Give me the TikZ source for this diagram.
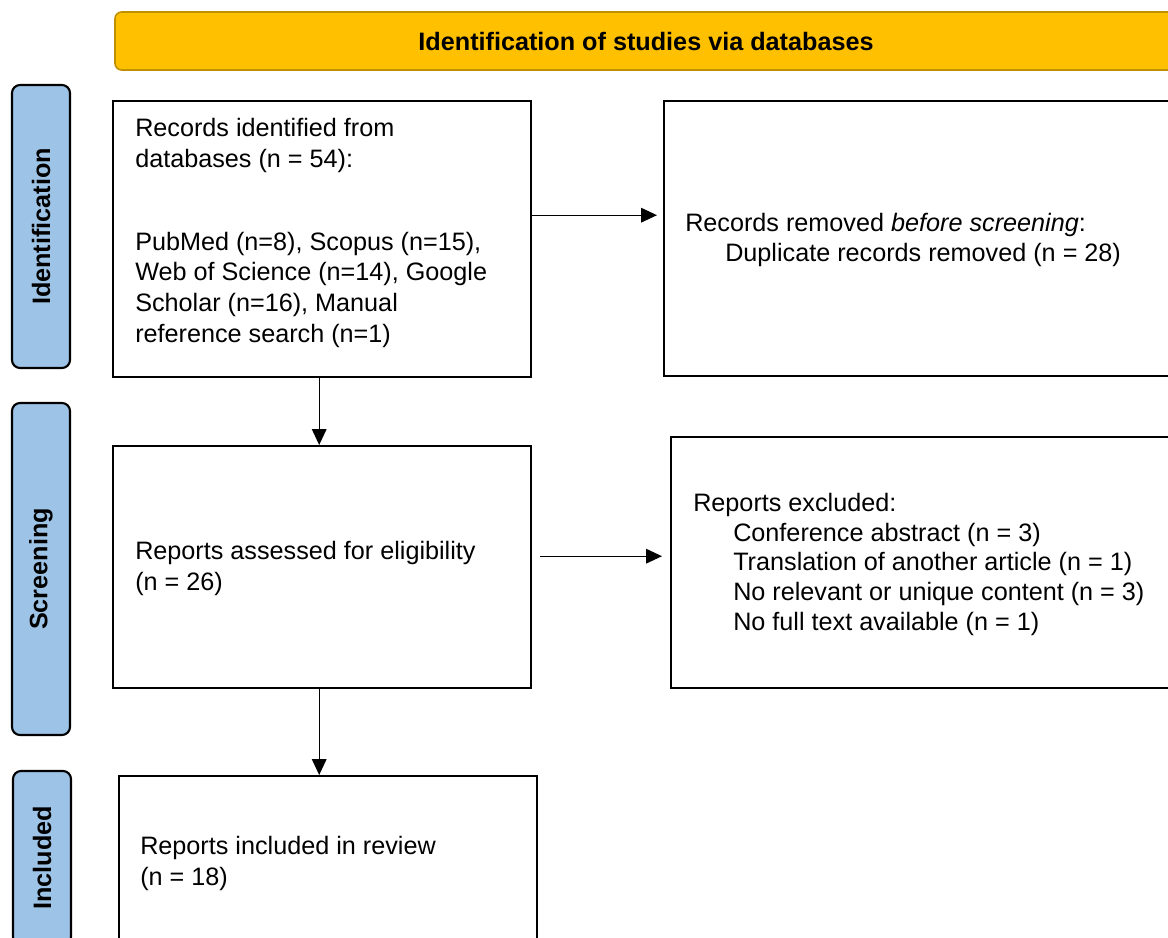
\documentclass[tikz,border=0pt]{standalone}
\usepackage{fontspec}
\setmainfont{Liberation Sans}
\usepackage{xcolor}
\usetikzlibrary{shapes,arrows.meta,positioning,calc}
\definecolor{headgold}{RGB}{255,192,0}
\definecolor{headline}{RGB}{191,144,0}
\definecolor{sideblue}{RGB}{157,195,230}

\begin{document}
\begin{tikzpicture}[x=0.75pt,y=-0.75pt]
	\tikzset{font=\fontsize{18.9}{23}\selectfont}
	\tikzset{box/.style 2 args = {shape=rectangle,draw,line width=1.8pt,inner sep=0,anchor=north west,minimum width=#1*0.75pt,minimum height=#2*0.75pt}}
	\tikzset{phase/.style = {shape=rectangle,rounded corners=6pt,draw,fill=sideblue,line width=1.6pt,rotate=90,font=\fontsize{18.9}{23}\selectfont\bfseries,minimum height=58*0.75pt,minimum width=#1*0.75pt}}
	\tikzset{head/.style = {shape=rectangle,rounded corners=5pt,draw=headline,fill=headgold,line width=1.2pt,font=\fontsize{18.9}{23}\selectfont\bfseries,minimum height=58*0.75pt,minimum width=1062*0.75pt}}
	% base = baseline of the last line
	\tikzset{txt/.style = {anchor=base west,inner sep=0,align=left}}
	\tikzset{arr/.style = {-{Triangle[length=12pt,width=11pt]},line width=1pt}}

	\useasboundingbox (0,0) rectangle (1168,938);
	\clip (0,0) rectangle (1168,938);

	% banner and phase labels
	\node[head] (head) at (646,41) {Identification of studies via databases};
	\node[phase=283] (lid) at (41,226.5) {Identification};
	\node[phase=332] (lsc) at (41,569) {Screening};
	\node[phase=174] (lin) at (42,858) {Included};

	% boxes
	\node[box={418}{276}] (rec) at (112,100) {};
	\node[box={527}{275}] (rem) at (663,100) {};
	\node[box={418}{242}] (ass) at (112,445) {};
	\node[box={520}{251}] (exc) at (670,436) {};
	\node[box={418}{190}] (rev) at (118,775) {};

	\node[txt] (rectxt) at ($(rec.north west)+(23,242)$) {Records identified from\\databases (n = 54):\\[39pt]PubMed (n=8), Scopus (n=15),\\Web of Science (n=14), Google\\Scholar (n=16), Manual\\reference search (n=1)};
	\node[txt] (remtxt) at ($(rem.north west)+(22,162)$) {Records removed \textit{before screening}:\\\hspace*{30pt}Duplicate records removed (n = 28)};
	\node[txt] (asstxt) at ($(ass.north west)+(23,145)$) {Reports assessed for eligibility\\(n = 26)};
	\node[txt,font=\fontsize{18.9}{22.2}\selectfont] (exctxt) at ($(exc.north west)+(23,194)$) {Reports excluded:\\\hspace*{30pt}Conference abstract (n = 3)\\\hspace*{30pt}Translation of another article (n = 1)\\\hspace*{30pt}No relevant or unique content (n = 3)\\\hspace*{30pt}No full text available (n = 1)};
	\node[txt] (revtxt) at ($(rev.north west)+(22,110)$) {Reports included in review\\(n = 18)};

	% arrows
	\draw[arr] ([yshift=18pt]rec.east) coordinate (a1) -- ($(a1 -| rem.west)+(-6,0)$);
	\draw[arr] ([xshift=-2.25pt]rec.south) -- ([xshift=-2.25pt]rec.south |- ass.north);
	\draw[arr] ($(ass.east)+(8,-11)$) coordinate (a3) -- ($(a3 -| exc.west)+(-8,0)$);
	\draw[arr] ([xshift=-2.25pt]ass.south) -- ([xshift=-2.25pt]ass.south |- rev.north);
\end{tikzpicture}
\end{document}
